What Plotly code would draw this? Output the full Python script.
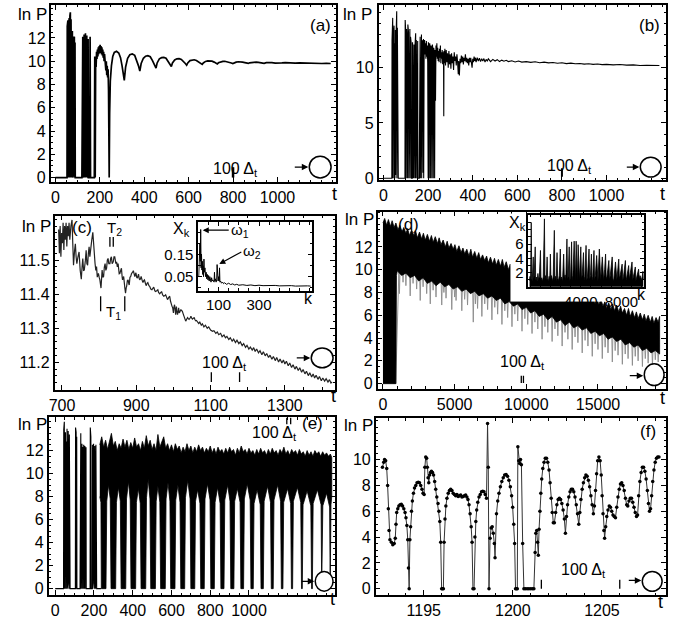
import plotly.graph_objects as go

# ---------------- data ----------------
a_pts = [(0,0),(50,0),(52,0),(53,13.0),(54,0),(56,13.5),(57,0),(59,13.2),(60,0.4),(62,13.7),(63,0),(65,13.9),(66,0.2),(67,14.2),(68,0),(70,13.6),(71,0.5),(73,13.1),(74,0),(76,12.6),(77,0),(79,12.3),(80,0.3),(82,12.0),(83,0),(85,12.1),(86,0),(88,11.6),(89,0),
(119,0),(120,11.8),(121,0),(123,12.1),(124,0.3),(126,11.9),(127,0),(129,12.3),(130,0),(132,12.0),(133,0.5),(135,12.4),(136,0),(138,11.7),(139,0),(141,12.2),(142,0.2),(144,11.5),(145,0),(147,11.9),(148,0),(154,0),(156,12.1),(158,0),
(175,0),(177,10.4),(179,0),(181,10.1),(183,9.5),(185,10.8),(187,10.2),(189,11.0),(191,10.4),(193,11.2),(195,10.6),(197,11.3),(199,10.7),(201,11.4),(203,10.8),(205,11.3),(207,10.6),(209,11.2),(211,10.5),(213,11.0),(215,10.3),(217,10.8),(219,10.0),(221,10.6),(223,9.7),(225,10.3),(227,9.2),(229,10.0),(231,8.8),(233,9.6),(235,8.6),(237,9.3),(239,7.5),(241,3.0),(242,0),
(244,5.5),(247,8.3),(252,9.6),(258,10.4),(265,10.75),(275,10.85),(285,10.7),(293,10.3),(300,9.6),(306,8.9),(310,8.35),(316,9.5),(325,10.25),(335,10.55),(346,10.62),(357,10.5),(366,10.1),(374,9.6),(380,9.15),
(386,9.8),(396,10.25),(406,10.43),(416,10.47),(427,10.38),(437,10.05),(446,9.7),(453,9.4),(458,9.85),(468,10.2),(478,10.3),(488,10.32),(498,10.25),(508,10.0),(516,9.75),(522,9.55),
(527,9.85),(537,10.1),(547,10.2),(557,10.22),(567,10.15),(577,9.98),(585,9.8),(591,9.65),(596,9.85),(606,10.05),(616,10.1),(625,10.12),(635,10.06),(645,9.95),(654,9.82),(661,9.72),
(666,9.85),(676,9.98),(686,10.03),(695,10.04),(705,10.0),(715,9.92),(723,9.83),(729,9.76),(734,9.86),(744,9.95),(754,9.98),(763,9.99),(773,9.96),(783,9.9),(792,9.84),(799,9.79),
(804,9.86),(814,9.92),(824,9.95),(833,9.95),(843,9.92),(853,9.88),(862,9.84),(869,9.81),(874,9.86),(884,9.9),(894,9.92),(904,9.92),(914,9.89),(924,9.86),(933,9.83),(940,9.81),
(950,9.87),(960,9.89),(975,9.88),(990,9.84),(1005,9.82),(1020,9.85),(1035,9.87),(1050,9.85),(1065,9.83),(1080,9.84),(1100,9.86),(1120,9.84),(1140,9.82),(1160,9.83),(1180,9.82),(1200,9.8),(1220,9.81),(1240,9.8)]

b_pts = [(0,0),(37,0),(38,12.5),(39,0),(41,14.5),(42,0),(44,13.0),(45,0.2),(47,13.8),(48,0),(50,12.2),(51,0),(53,13.4),(54,0.3),(56,12.8),(57,0),(59,15.1),(60,0),(62,13.6),(63,0),(65,13.3),(66,0),
(96,0),(97,14.3),(98,0),(100,13.0),(101,0),(103,13.5),(104,0),(106,12.4),(107,0),(109,13.9),(110,0.5),(112,13.2),(113,0),(115,12.6),(116,0),(118,13.5),(119,0),(121,12.8),(122,0),(124,12.2),(125,0),
(129,0),(130,12.3),(131,0),(133,11.9),(134,0),(136,12.1),(137,0),(140,0),(141,12.0),(142,0),(144,13.1),(145,0),(147,12.5),(148,0),(150,11.8),(151,0),(153,12.4),(154,0),
(160,0),(161,12.6),(162,0),(164,12.8),(165,0),(167,12.4),(168,0),(170,13.0),(171,0),(173,12.5),(174,0),(176,12.2),(177,0.5),(179,12.6),(180,0),
(182,11.8),(184,12.5),(186,11.2),(188,12.2),(190,10.8),(192,12.4),(194,11.0),(196,12.0),(198,10.5),
(200,0),(201,12.3),(202,0),(204,11.9),(205,0),(207,12.2),(208,0),(210,11.6),(211,0),(213,12.0),(214,0),(216,11.7),(217,0),(219,12.1),(220,0),(222,11.5),(223,0),(225,11.8),(226,0),(228,11.4),(229,0),
(231,11.6),(233,7.0),(235,12.0),(237,11.0),(239,12.2),(241,10.8),(243,11.8),(245,10.6),(247,11.5),(249,10.5),(251,11.7),(253,10.9),(255,12.0),(257,10.4),(259,11.4),(261,10.8),(263,11.6),(265,10.3),(267,11.4),(269,10.6),(270,5.6),(271,11.5),(273,10.4),(275,11.7),
(278,10.2),(281,11.6),(284,10.5),(287,11.3),(290,10.0),(293,11.5),(296,10.3),(299,11.2),(302,9.9),(305,11.3),(308,10.4),(311,11.0),(314,9.8),(317,11.4),(320,10.6),(323,11.0),(326,10.2),(329,11.2),(332,10.5),(335,9.4),(337,10.6),(340,9.3),
(343,10.8),(346,10.4),(349,11.1),(352,10.5),(355,11.0),(358,10.3),(361,10.9),(364,10.6),(367,11.2),(370,10.5),(373,10.9),(376,10.4),(379,10.8),(382,10.2),(385,10.9),(388,10.5),(391,10.9),(394,10.4),(397,10.0),(400,10.8),(403,10.5),(406,11.0),(409,10.6),(412,10.9),(415,10.5),
(420,10.9),(425,10.6),(430,10.85),(435,10.55),(440,10.8),(445,10.6),(450,10.82),(455,10.5),(460,10.75),(465,10.6),(470,10.8),(480,10.55),(490,10.75),(500,10.6),(510,10.72),(520,10.55),(530,10.68),(540,10.58),(550,10.66),(560,10.55),
(575,10.62),(590,10.52),(605,10.6),(620,10.5),(640,10.55),(660,10.48),(680,10.53),(700,10.45),(720,10.5),(740,10.43),(760,10.47),(780,10.4),(800,10.44),(820,10.37),(840,10.41),(860,10.35),(880,10.38),(900,10.32),(920,10.35),(940,10.3),(960,10.33),(980,10.28),(1000,10.3),
(1030,10.25),(1060,10.28),(1090,10.23),(1120,10.25),(1150,10.2),(1180,10.22),(1210,10.18),(1237,10.2)]

c_pts = [(691,11.59),(693,11.52),(695,11.60),(697,11.51),(699,11.58),(701,11.55),(703,11.61),(705,11.53),(707,11.60),(709,11.56),(711,11.61),(713,11.54),(715,11.60),(717,11.57),(719,11.61),(721,11.56),(724,11.60),(727,11.618),
(729,11.55),(731,11.485),(734,11.53),(736,11.548),(738,11.51),(740,11.49),(743,11.51),(746,11.524),(749,11.47),(752,11.444),(754,11.48),(756,11.505),(758,11.47),(760,11.471),(763,11.50),(765,11.529),(767,11.49),(769,11.485),(771,11.52),(773,11.539),(775,11.51),(778,11.55),(780,11.558),(783,11.582),
(785,11.539),(787,11.50),(789,11.49),(791,11.47),(793,11.481),(795,11.45),(798,11.461),(800,11.45),(802,11.442),(805,11.418),(808,11.471),(810,11.45),(812,11.452),(814,11.48),(816,11.49),(818,11.47),(820,11.476),(822,11.50),(824,11.505),(826,11.49),(829,11.49),(831,11.505),(833,11.51),(835,11.49),(838,11.495),(840,11.51),(842,11.51),(845,11.49),(847,11.495),(849,11.48),(851,11.49),
(854,11.46),(856,11.461),(858,11.47),(860,11.476),(862,11.45),(863,11.442),(865,11.45),(866,11.452),(869,11.42),(871,11.403),(873,11.42),(874,11.423),(876,11.44),(878,11.442),(880,11.43),(881,11.427),(883,11.45),(885,11.452),(887,11.46),(888,11.461),(890,11.465),(892,11.469),
(894,11.455),(896,11.452),(898,11.46),(899,11.463),(901,11.45),(903,11.447),(905,11.455),(906,11.459),(908,11.445),(910,11.442),(912,11.448),(913,11.452),(916,11.44),(918,11.434),(920,11.44),(922,11.442),(925,11.43),(927,11.425),(929,11.432),(931,11.434),(934,11.425),(936,11.423),
(939,11.415),(942,11.413),(945,11.418),(947,11.421),(950,11.41),(952,11.408),(955,11.41),(958,11.413),(960,11.405),(963,11.401),(966,11.405),(968,11.408),(971,11.398),(974,11.394),(977,11.396),(979,11.398),(982,11.39),(984,11.384),(987,11.39),(990,11.394),(992,11.38),(993,11.374),
(996,11.365),(998,11.36),(1000,11.345),(1001,11.36),(1003,11.369),(1005,11.35),(1006,11.340),(1007,11.355),(1008,11.364),(1010,11.345),(1011,11.340),(1013,11.35),(1014,11.360),(1015,11.35),(1016,11.345),(1018,11.35),(1020,11.355),(1022,11.352),(1024,11.350),(1026,11.343),(1029,11.335),
(1031,11.33),(1033,11.321),(1036,11.327),(1038,11.331),(1040,11.328),(1042,11.326),(1045,11.33),(1047,11.335),(1049,11.33),(1051,11.327),(1054,11.33),(1056,11.331),(1058,11.325),(1060,11.322),(1062,11.323),(1064,11.319),
(1068,11.314),(1071,11.318),(1075,11.309),(1078,11.313),(1082,11.304),(1086,11.309),(1091,11.300),(1095,11.304),(1100,11.295),(1105,11.291),(1109,11.293),(1114,11.285),(1118,11.289),(1122,11.281),(1127,11.285),(1131,11.275),(1136,11.280),(1140,11.272),(1144,11.276),(1149,11.267),(1153,11.272),
(1158,11.262),(1162,11.268),(1167,11.258),(1171,11.265),(1176,11.255),(1180,11.260),(1185,11.249),(1189,11.255),(1194,11.244),(1198,11.250),(1203,11.239),(1207,11.245),(1212,11.236),(1216,11.243),(1220,11.232),(1224,11.239),(1229,11.228),(1233,11.234),(1238,11.222),(1242,11.231),
(1247,11.219),(1251,11.226),(1256,11.214),(1260,11.221),(1265,11.209),(1269,11.217),(1274,11.205),(1278,11.214),(1283,11.201),(1287,11.210),(1292,11.198),(1296,11.207),(1300,11.195),(1304,11.203),(1309,11.190),(1313,11.198),(1318,11.185),(1322,11.193),(1327,11.180),(1331,11.188),
(1336,11.176),(1340,11.184),(1345,11.171),(1349,11.179),(1354,11.166),(1358,11.174),(1363,11.161),(1367,11.169),(1372,11.157),(1376,11.166),(1380,11.154),(1384,11.162),(1389,11.150),(1393,11.158),(1398,11.146),(1402,11.154),(1407,11.145),(1411,11.152),(1416,11.142),(1420,11.149),(1424,11.139),(1427,11.142)]

ci_pts = [(2,0.05),(5,0.10),(8,0.20),(10,0.12),(12,0.265),(14,0.09),(16,0.15),(18,0.08),(20,0.12),(22,0.06),(24,0.10),(26,0.05),(28,0.13),(30,0.07),(33,0.09),(36,0.05),(39,0.07),(42,0.04),(45,0.06),(48,0.035),(51,0.055),(54,0.03),(57,0.05),(60,0.04),(63,0.025),(66,0.045),(69,0.03),(72,0.035),(75,0.03),(78,0.025),(80,0.07),(82,0.03),(85,0.04),(88,0.025),(91,0.035),(93,0.105),(95,0.04),(98,0.03),(101,0.05),(103,0.03),(105,0.09),(107,0.025),(110,0.03),(115,0.02),(120,0.025),(125,0.018),(130,0.022),(140,0.015),(150,0.02),(160,0.014),(170,0.017),(180,0.012),(190,0.015),(200,0.011),(220,0.013),(240,0.01),(260,0.012),(280,0.009),(300,0.011),(320,0.009),(340,0.01),(360,0.008),(380,0.01),(400,0.008),(420,0.009),(440,0.008),(460,0.009),(480,0.007),(500,0.008),(520,0.007),(540,0.008),(555,0.007)]

d_upper = [(0,14.1),(120,14.5),(260,13.9),(380,14.4),(520,13.8),(640,14.3),(780,13.7),(900,14.1),(1050,13.5),(1180,13.9),(1320,13.3),(1450,13.7),(1600,13.2),(1720,13.6),(1850,13.0),(2000,13.5),(2150,13.0),(2280,13.4),(2400,12.8),(2550,13.3),(2700,12.7),(2820,13.2),(2950,12.6),(3100,13.1),(3250,12.5),(3380,13.0),(3500,12.4),(3650,12.9),(3800,12.3),(3920,12.8),(4050,12.2),(4200,12.6),(4350,12.0),(4480,12.5),(4600,11.9),(4750,12.3),(4900,11.8),(5020,12.2),(5150,11.6),(5300,12.1),(5450,11.5),(5580,11.9),(5700,11.4),(5850,11.8),(6000,11.2),(6130,11.8),(6250,11.1),(6400,11.6),(6550,11.0),(6680,11.5),(6800,10.9),(6950,11.3),(7100,10.8),(7230,11.2),(7350,10.6),(7500,11.1),(7650,10.5),(7780,11.0),(7900,10.4),(8050,10.9),(8200,10.3),(8330,10.9),(8450,10.2),(8600,10.7),(8750,10.0),(8880,10.5),(9000,9.9),(9150,10.4),(9300,9.8),(9430,10.2),(9550,9.6),(9700,10.1),(9850,9.4),(9980,9.9),(10100,9.3),(10250,9.8),(10400,9.2),(10530,9.7),(10650,9.0),(10800,9.5),(10950,8.9),(11080,9.4),(11200,8.8),(11350,9.2),(11500,8.6),(11630,9.1),(11750,8.5),(11900,9.0),(12050,8.4),(12180,8.8),(12300,8.2),(12450,8.7),(12600,8.1),(12730,8.6),(12850,8.0),(13000,8.5),(13150,7.9),(13280,8.3),(13400,7.7),(13550,8.2),(13700,7.6),(13830,8.0),(13950,7.4),(14100,7.9),(14250,7.3),(14380,7.8),(14500,7.2),(14650,7.6),(14800,7.0),(14930,7.6),(15050,6.9),(15200,7.4),(15350,6.8),(15480,7.2),(15600,6.6),(15750,7.1),(15900,6.5),(16030,7.0),(16150,6.4),(16300,6.9),(16450,6.3),(16580,6.8),(16700,6.2),(16850,6.6),(17000,6.0),(17130,6.6),(17250,5.9),(17400,6.4),(17550,5.8),(17680,6.3),(17800,5.7),(17950,6.2),(18100,5.6),(18230,6.1),(18350,5.5),(18500,6.0),(18650,5.4),(18780,5.9),(18900,5.3),(19050,5.8),(19200,5.4),(19300,5.9)]

d_lower = [(0,0),(900,0),(940,9.5),(1000,9.9),(1300,9.5),(1600,9.7),(1900,9.3),(2200,9.5),(2500,9.0),(2800,9.3),(3100,8.8),(3400,9.0),(3700,8.6),(4000,8.9),(4300,8.5),(4600,8.7),(4900,8.3),(5200,8.5),(5500,8.1),(5800,8.3),(6100,7.9),(6400,8.1),(6700,7.7),(7000,7.9),(7300,7.5),(7600,7.7),(7900,7.3),(8200,7.5),(8500,7.0),(8800,7.2),(9100,6.8),(9400,7.0),(9700,6.5),(10000,6.7),(10300,6.2),(10600,6.4),(10900,5.9),(11200,6.1),(11500,5.6),(11800,5.9),(12100,5.4),(12400,5.6),(12700,5.1),(13000,5.4),(13300,4.9),(13600,5.1),(13900,4.7),(14200,4.9),(14500,4.4),(14800,4.6),(15100,4.2),(15400,4.4),(15700,3.9),(16000,4.1),(16300,3.7),(16600,3.9),(16900,3.4),(17200,3.6),(17500,3.2),(17800,3.4),(18100,2.9),(18400,3.1),(18700,2.7),(19000,2.9),(19300,2.6)]

# grey downward spikes under the black band: (t, band level, spike depth)
d_spikes = [(760,0,10.0),(850,0,9.8),(1150,9.9,7.9),(1400,9.8,8.9),(1600,9.8,8.6),(1900,9.6,7.7),(2100,9.6,8.8),(2350,9.5,8.3),(2600,9.4,7.3),(2800,9.3,8.5),(3050,9.2,7.9),(3300,9.1,7.0),(3500,9.1,8.2),(3700,9.0,7.6),(4100,8.9,6.9),(4250,8.9,8.0),(4400,8.8,7.5),(4800,8.7,6.5),(5000,8.6,7.6),(5100,8.6,7.3),(5500,8.4,6.4),(5700,8.3,7.4),(5900,8.3,6.9),(6300,8.1,5.4),(6450,8.1,7.0),(6600,8.1,6.6),(6900,8.0,5.9),(7100,7.9,7.0),(7300,7.9,6.5),(7600,7.7,5.6),(7800,7.7,6.7),(8000,7.6,6.1),(8300,7.5,5.2),(8500,7.4,6.4),(8700,7.3,5.8),(9000,7.2,5.0),(9200,7.1,6.1),(9400,7.0,5.5),(9700,6.9,4.6),(9900,6.8,5.7),(10100,6.7,5.2),(10400,6.6,4.4),(10600,6.5,5.4),(10800,6.4,4.8),(11100,6.3,3.9),(11300,6.2,5.0),(11500,6.1,4.5),(11800,6.0,3.7),(12000,5.9,4.8),(12200,5.8,4.2),(12500,5.7,3.3),(12700,5.6,4.5),(12900,5.5,3.9),(13200,5.4,3.0),(13400,5.3,4.1),(13600,5.3,3.6),(13900,5.1,2.7),(14100,5.1,3.8),(14300,5.0,3.3),(14600,4.8,2.4),(14800,4.7,3.5),(15000,4.6,3.0),(15300,4.5,2.2),(15500,4.4,3.2),(15700,4.3,2.7),(16000,4.2,1.9),(16200,4.1,2.9),(16400,4.0,2.5),(16700,3.9,1.7),(16900,3.8,2.6),(17100,3.8,2.2),(17400,3.6,1.6),(17600,3.5,2.4),(17800,3.4,2.0),(18100,3.3,1.5),(18300,3.2,2.2),(18500,3.2,1.8),(18800,3.1,1.6),(19000,3.0,2.1),(19200,2.9,1.9)]

di_pts = [(-1050,0.9),(-1000,1.5),(-950,0.8),(-880,9.0),(-830,1.2),(-780,0.8),(-685,4.2),(-640,1.1),(-590,1.6),(-490,5.6),(-440,0.9),(-380,1.4),(-300,0.8),(-226,1.9),(-150,1.0),(-80,1.5),(28,5.1),(80,0.9),(150,1.3),(230,0.8),(300,1.4),(418,9.5),(470,1.0),(540,1.6),(600,0.9),(682,4.2),(740,1.2),(800,0.8),(880,1.5),(940,0.9),(1004,4.6),(1060,1.1),(1120,1.6),(1200,0.8),(1280,1.4),(1394,7.9),(1450,1.0),(1520,1.5),(1580,0.8),(1658,4.8),(1720,1.2),(1800,0.9),(1880,1.6),(1980,5.3),(2040,1.0),(2100,1.4),(2200,0.8),(2312,4.6),(2380,1.2),(2450,1.7),(2520,0.9),(2634,6.7),(2700,1.1),(2760,1.5),(2858,5.6),(2920,0.9),(2990,1.4),(3092,6.3),(3150,1.0),(3220,1.6),(3346,6.4),(3400,1.2),(3470,0.8),(3541,6.4),(3600,1.3),(3660,0.9),(3736,5.9),(3800,1.5),(3870,1.0),(4000,5.6),(4070,1.2),(4140,1.7),(4264,4.8),(4330,1.0),(4400,1.5),(4517,5.8),(4580,0.9),(4650,1.4),(4810,5.3),(4880,1.1),(4950,1.6),(5044,4.6),(5110,0.9),(5180,1.5),(5298,5.1),(5360,1.0),(5430,1.6),(5562,4.4),(5620,1.2),(5690,0.8),(5825,5.3),(5890,1.3),(5960,1.0),(6118,4.2),(6180,1.4),(6250,0.9),(6350,2.5),(6440,4.6),(6500,1.1),(6580,1.5),(6762,3.7),(6830,1.0),(6900,1.6),(7094,4.2),(7160,1.2),(7230,0.8),(7416,3.5),(7480,1.4),(7550,1.0),(7738,3.9),(7800,1.2),(7870,1.6),(8070,3.2),(8140,1.0),(8210,1.5),(8392,3.7),(8460,0.9),(8530,1.4),(8714,3.0),(8780,1.1),(8850,1.6),(9045,3.5),(9110,1.0),(9180,1.4),(9368,2.8),(9430,0.9),(9500,1.5),(9690,2.5),(9760,1.1),(9830,1.6),(10000,1.0),(10119,2.2),(10150,1.0)]

e_early = [(0,0),(43,0),(44,13.8),(45,0),(47,14.5),(48,0),(50,13.2),(51,0),(53,13.6),(54,0),(56,12.8),(57,0),(60,0),(61,13.9),(62,0),(64,13.5),(65,0.4),(67,13.7),(68,0),(70,13.2),(71,0),(73,13.4),(74,0),(76,12.9),(77,0),(104,0),(105,14.0),(106,0),(108,13.6),(109,0),(111,13.2),(112,0),(128,0),(129,12.4),(130,0),(132,13.5),(133,0),(135,12.2),(136,0.2),(138,12.6),(139,0),(141,12.3),(142,0),(144,12.0),(145,0),(147,12.5),(148,0),(150,12.2),(151,0),(153,12.4),(154,0),(156,11.9),(157,0),(159,12.3),(160,0),(180,0),(181,14.0),(182,0),(184,13.2),(185,0),(191,0),(192,12.5),(193,0),(195,12.3),(196,0.5),(198,12.6),(199,0),(201,12.2),(202,0),(204,12.4),(205,0),(207,11.8),(208,0),(210,12.5),(211,0),(213,12.0),(214,0),(236,0)]

e_upper = [(230,12.5),(240,13.2),(250,12.3),(260,12.9),(270,12.1),(280,12.7),(290,13.5),(300,12.4),(310,12.8),(320,12.0),(330,12.6),(340,12.2),(350,13.0),(360,12.3),(370,12.9),(380,12.1),(390,12.7),(400,12.2),(410,13.1),(420,12.3),(430,12.6),(440,12.0),(450,12.8),(460,12.2),(470,13.3),(480,12.4),(490,12.9),(500,12.1),(510,12.6),(520,12.0),(530,13.4),(540,12.3),(550,12.7),(560,13.2),(570,12.2),(580,12.6),(590,12.0),(600,12.5),(610,11.9),(620,12.6),(630,12.1),(640,12.4),(650,11.8),(660,12.3),(670,11.9),(680,12.6),(690,12.0),(700,12.4),(710,11.8),(720,12.3),(730,11.9),(740,12.5),(750,12.0),(760,12.3),(770,11.8),(780,12.2),(790,11.9),(800,12.4),(810,11.8),(820,12.2),(830,11.7),(840,12.3),(850,11.9),(860,12.1),(870,11.7),(880,12.2),(890,11.8),(900,12.3),(910,11.9),(920,12.1),(930,11.6),(940,12.2),(950,11.8),(960,12.4),(970,11.9),(980,12.1),(990,11.7),(1000,12.2),(1010,11.8),(1020,12.0),(1030,11.6),(1040,12.1),(1050,11.7),(1060,12.2),(1070,11.8),(1080,12.0),(1090,11.6),(1100,12.1),(1110,11.7),(1120,12.2),(1130,11.8),(1140,12.0),(1150,11.6),(1160,12.1),(1170,11.8),(1180,12.3),(1190,11.7),(1200,12.0),(1210,11.6),(1220,12.1),(1230,11.8),(1240,12.0),(1250,11.6),(1260,12.1),(1270,11.7),(1280,11.9),(1290,11.5),(1300,12.0),(1310,11.6),(1320,11.9),(1330,11.5),(1340,12.0),(1350,11.7),(1360,11.9),(1370,11.5),(1380,11.9),(1390,11.6),(1400,11.8),(1410,11.5),(1420,11.7),(1427,11.4)]

e_lower = [(230,8.0),(236,7.5),(238,0),(262,0),(266,7.6),(275,9.0),(284,7.8),(288,0),(312,0),(316,7.5),(326,8.8),(336,7.6),(340,0),(364,0),(368,7.8),(378,9.3),(387,7.7),(391,0),(415,0),(419,7.5),(429,8.7),(439,7.4),(443,0),(467,0),(471,7.9),(480,9.5),(489,7.8),(493,0),(517,0),(521,7.6),(530,8.9),(540,7.5),(544,0),(568,0),(572,7.8),(582,9.2),(592,7.6),(596,0),(618,0),(622,7.7),(633,9.0),(644,7.5),(648,0),(668,0),(672,7.9),(684,9.4),(696,7.8),(700,0),(720,0),(724,7.6),(735,8.6),(747,7.4),(751,0),(769,0),(773,7.8),(786,9.1),(799,7.7),(803,0),(821,0),(825,7.5),(838,8.8),(851,7.4),(855,0),(871,0),(875,7.7),(890,9.0),(902,7.6),(906,0),(922,0),(926,7.6),(940,8.7),(954,7.5),(958,0),(972,0),(976,7.8),(991,9.1),(1006,7.7),(1010,0),(1022,0),(1026,7.4),(1042,8.6),(1058,7.3),(1062,0),(1074,0),(1078,7.6),(1096,8.9),(1111,7.5),(1115,0),(1125,0),(1129,7.7),(1148,9.0),(1163,7.6),(1167,0),(1175,0),(1179,7.5),(1199,8.7),(1215,7.4),(1219,0),(1225,0),(1229,7.6),(1250,8.8),(1267,7.5),(1271,0),(1275,0),(1279,7.3),(1300,8.5),(1319,7.2),(1323,0),(1327,0),(1331,7.4),(1353,8.6),(1372,7.3),(1375,0),(1377,0),(1381,7.2),(1400,8.3),(1416,7.1),(1419,0),(1421,0),(1423,7.3),(1427,8.0)]

f_pts = [(1192.68,9.4),(1192.75,9.8),(1192.80,10.0),(1192.86,9.9),(1192.92,9.3),(1192.97,8.0),(1193.01,6.2),(1193.05,4.5),(1193.10,3.8),(1193.18,3.6),(1193.26,3.4),(1193.34,3.5),(1193.40,3.9),(1193.44,5.0),(1193.48,5.9),(1193.54,6.2),(1193.60,6.4),(1193.67,6.5),(1193.74,6.55),(1193.81,6.4),(1193.88,6.2),(1193.95,5.9),(1194.00,5.5),(1194.05,4.9),(1194.10,3.8),(1194.14,1.6),(1194.18,0.0),
(1194.22,3.8),(1194.26,4.8),(1194.31,6.0),(1194.36,6.8),(1194.42,7.4),(1194.48,7.8),(1194.55,8.0),(1194.62,8.2),(1194.69,8.25),(1194.76,8.2),(1194.83,8.0),(1194.90,7.7),(1194.96,7.4),(1195.02,7.3),(1195.06,9.4),(1195.11,10.2),(1195.16,10.1),(1195.20,9.4),(1195.24,8.6),(1195.28,8.2),(1195.33,8.8),(1195.38,9.0),(1195.43,9.1),(1195.49,9.0),(1195.55,8.8),(1195.61,8.3),(1195.67,7.7),(1195.73,7.1),(1195.80,6.6),(1195.85,6.0),(1195.90,5.2),(1195.95,3.6),(1196.00,0.0),(1196.05,0.0),(1196.10,0.0),
(1196.14,3.6),(1196.19,5.4),(1196.24,6.4),(1196.30,7.0),(1196.37,7.4),(1196.44,7.6),(1196.51,7.7),(1196.58,7.6),(1196.65,7.4),(1196.72,7.3),(1196.79,7.2),(1196.86,7.3),(1196.93,7.15),(1197.00,7.2),(1197.07,7.25),(1197.14,7.1),(1197.21,7.15),(1197.28,7.2),(1197.35,7.25),(1197.42,7.1),(1197.48,6.9),(1197.54,6.5),(1197.60,5.8),(1197.66,4.8),(1197.71,3.6),(1197.76,0.0),(1197.82,0.0),
(1197.87,4.0),(1197.92,5.2),(1197.97,6.1),(1198.03,6.7),(1198.10,7.1),(1198.17,7.3),(1198.24,7.5),(1198.31,7.55),(1198.38,7.5),(1198.45,7.3),(1198.52,7.0),(1198.58,12.8),(1198.62,9.4),(1198.66,0.0),(1198.72,3.9),(1198.78,4.7),(1198.84,4.8),(1198.90,4.3),(1198.96,3.5),(1199.00,2.4),
(1199.08,5.8),(1199.15,6.8),(1199.22,7.4),(1199.30,7.9),(1199.38,8.3),(1199.46,8.6),(1199.54,8.8),(1199.62,8.85),(1199.70,8.7),(1199.78,8.4),(1199.86,7.9),(1199.93,7.2),(1199.99,6.3),(1200.05,5.0),(1200.10,3.5),(1200.15,0.0),(1200.20,0.0),(1200.25,0.0),(1200.28,11.0),(1200.33,9.9),(1200.38,9.7),(1200.43,10.0),(1200.48,9.6),(1200.55,3.5),
(1200.62,0.0),(1200.70,0.0),(1200.80,0.0),(1200.90,0.0),(1201.00,0.0),(1201.10,0.0),(1201.18,0.0),(1201.25,2.8),(1201.29,4.3),(1201.34,4.5),(1201.39,3.6),(1201.43,2.6),(1201.47,4.6),(1201.52,6.0),(1201.57,7.4),(1201.62,8.5),(1201.68,9.3),(1201.75,9.8),(1201.82,10.1),(1201.89,10.1),(1201.96,9.8),(1202.03,9.2),(1202.09,8.2),(1202.15,7.0),(1202.21,5.9),(1202.27,5.1),
(1202.33,5.1),(1202.40,5.9),(1202.47,6.5),(1202.54,6.9),(1202.61,7.0),(1202.68,6.9),(1202.75,6.6),(1202.82,6.1),(1202.89,5.4),(1202.95,4.3),(1203.01,5.6),(1203.07,6.5),(1203.14,7.1),(1203.21,7.5),(1203.28,7.7),(1203.35,7.7),(1203.42,7.5),(1203.49,7.1),(1203.56,6.5),(1203.63,5.8),(1203.70,5.0),
(1203.76,5.9),(1203.82,6.9),(1203.89,7.7),(1203.96,8.2),(1204.03,8.6),(1204.10,8.8),(1204.17,8.7),(1204.24,8.4),(1204.31,7.9),(1204.38,7.2),(1204.45,6.5),(1204.52,5.8),(1204.58,6.4),(1204.64,7.6),(1204.70,8.9),(1204.76,9.9),(1204.83,10.2),(1204.90,9.9),(1204.96,8.8),(1205.01,7.2),(1205.06,5.8),(1205.11,4.5),(1205.15,3.9),
(1205.21,4.8),(1205.27,5.6),(1205.34,6.1),(1205.41,6.4),(1205.48,6.3),(1205.55,6.0),(1205.62,5.7),(1205.69,5.6),(1205.76,5.5),(1205.83,6.3),(1205.90,7.1),(1205.97,7.7),(1206.04,8.1),(1206.11,8.2),(1206.18,8.0),(1206.25,7.6),(1206.32,7.0),(1206.39,6.5),(1206.45,6.4),(1206.52,6.8),(1206.59,7.0),(1206.66,7.0),(1206.73,6.7),(1206.80,6.3),(1206.87,5.9),(1206.94,5.6),
(1207.00,5.7),(1207.06,7.2),(1207.13,8.3),(1207.20,9.0),(1207.27,9.4),(1207.34,9.4),(1207.41,9.1),(1207.48,8.5),(1207.55,7.6),(1207.61,6.6),(1207.67,6.0),(1207.73,6.2),(1207.79,7.2),(1207.85,8.3),(1207.92,9.2),(1207.99,9.8),(1208.06,10.1),(1208.13,10.2),(1208.20,10.2)]

# tick labels
a_xticks = [0, 200, 400, 600, 800, 1000]
a_yticks = [0, 2, 4, 6, 8, 10, 12]
b_yticks = [0, 5, 10]
c_xticks = [700, 900, 1100, 1300]
c_yticks = [11.2, 11.3, 11.4, 11.5]
ci_xticks = [100, 300]
ci_yticks = [0.05, 0.15]
d_xticks = [0, 5000, 10000, 15000]
di_xticks = [4000, 8000]
di_yticks = [2, 4, 6]
f_xticks = [1195, 1200, 1205]
f_yticks = [0, 2, 4, 6, 8, 10]

# "100 Δt" marker positions (t)
a_marks = [798, 802]
b_marks = [800]
c_marks = [1102, 1178]
c_T1_marks = [804, 869]
c_T2_marks = [829, 838]
d_marks = [9650, 9800]
e_marks = [1195, 1215]
f_marks = [1201.6, 1206.0]

# ---------------- layout ----------------
W, H = 674, 621
FONT = "Liberation Sans Narrow, Arial Narrow, Liberation Sans, Arial, sans-serif"
SPIKE_HALF = 40   # drawn half-width of a grey spike in (d), in t units


def unzip(p):
    return [q[0] for q in p], [q[1] for q in p]


def band(up, lo):
    ux, uy = unzip(up)
    lx, ly = unzip(lo)
    return ux + lx[::-1], uy + ly[::-1]


# frames: left, top, right, bottom (pixels); 8 is the white backing of inset (d) with its labels
frames = {
    1: (45, 5, 333, 184),
    2: (376, 5, 666, 182),
    3: (49, 218, 332, 394),
    4: (375, 214, 666, 393),
    5: (43, 422, 332, 602),
    6: (373, 423, 666, 602),
    7: (194, 225, 309, 294),
    8: (509, 216, 650, 305),
    9: (527, 217, 644, 290),
}
BACKINGS = (8,)
ranges = {
    1: ([-22, 1264], [-0.37, 14.83]),
    2: ([-22, 1267], [-0.15, 15.67]),
    3: ([680, 1435], [11.12, 11.631]),
    4: ([-370, 19750], [-0.43, 15.1]),
    5: ([-34, 1444], [-0.57, 14.9]),
    6: ([1192.3, 1208.6], [-0.5, 13.2]),
    7: ([0, 563], [-0.014, 0.297]),
    8: ([0, 1], [0, 1]),
    9: ([-1170, 10250], [0.05, 10.1]),
}
ticks = {
    1: (a_xticks, 50, a_yticks, 0.5),
    2: (a_xticks, 50, b_yticks, 1),
    3: (c_xticks, 50, c_yticks, 0.02),
    4: (d_xticks, 1000, a_yticks, 0.5),
    5: (a_xticks, 50, a_yticks, 0.5),
    6: (f_xticks, 1, f_yticks, 0.5),
    7: (ci_xticks, 50, ci_yticks, 0.05),
    9: (di_xticks, 1000, di_yticks, 1),
}

fig = go.Figure()

def ax_names(i):
    return ("x" if i == 1 else f"x{i}"), ("y" if i == 1 else f"y{i}")

# panel (a)
x, y = unzip(a_pts)
fig.add_trace(go.Scatter(x=x, y=y, mode="lines", line=dict(color="black", width=1.7), xaxis="x", yaxis="y"))
# panel (b)
x, y = unzip(b_pts)
fig.add_trace(go.Scatter(x=x, y=y, mode="lines", line=dict(color="black", width=1.1), xaxis="x2", yaxis="y2"))
# panel (c)
x, y = unzip(c_pts)
fig.add_trace(go.Scatter(x=x, y=y, mode="lines", line=dict(color="#222222", width=1.2), xaxis="x3", yaxis="y3"))
# panel (d): grey spikes, then black band
gx, gy = [], []
for t, lev, depth in d_spikes:
    gx += [t - SPIKE_HALF, t, t + SPIKE_HALF]
    gy += [lev, depth, lev]
fig.add_trace(go.Scatter(x=gx, y=gy, mode="lines", line=dict(color="#8a8a8a", width=0.9), xaxis="x4", yaxis="y4"))
x, y = band(d_upper, d_lower)
fig.add_trace(go.Scatter(x=x, y=y, mode="lines", fill="toself", fillcolor="black",
                         line=dict(color="black", width=0.8), xaxis="x4", yaxis="y4"))
# panel (e)
x, y = unzip(e_early)
fig.add_trace(go.Scatter(x=x, y=y, mode="lines", line=dict(color="black", width=1.1), xaxis="x5", yaxis="y5"))
x, y = band(e_upper, e_lower)
fig.add_trace(go.Scatter(x=x, y=y, mode="lines", fill="toself", fillcolor="black",
                         line=dict(color="black", width=0.8), xaxis="x5", yaxis="y5"))
# panel (f)
x, y = unzip(f_pts)
fig.add_trace(go.Scatter(x=x, y=y, mode="lines+markers", line=dict(color="#333333", width=1),
                         marker=dict(color="black", size=3.5), xaxis="x6", yaxis="y6"))
# inset (c)
x, y = unzip(ci_pts)
fig.add_trace(go.Scatter(x=x, y=y, mode="lines", line=dict(color="black", width=1), xaxis="x7", yaxis="y7"))
# white backing behind inset (d) and its tick labels
for i in BACKINGS:
    xa, ya = ax_names(i)
    fig.add_trace(go.Scatter(x=[None], y=[None], mode="lines", xaxis=xa, yaxis=ya, hoverinfo="skip"))
# inset (d)
x, y = unzip(di_pts)
fig.add_trace(go.Scatter(x=x, y=y, mode="lines", fill="tozeroy", fillcolor="black",
                         line=dict(color="black", width=0.8), xaxis="x9", yaxis="y9"))

layout = dict(width=W, height=H, margin=dict(l=0, r=0, t=0, b=0), showlegend=False,
              paper_bgcolor="white", plot_bgcolor="white",
              font=dict(family=FONT, size=16, color="black"))

for i, (l, t, r, b) in frames.items():
    xa, ya = ax_names(i)
    xk = "xaxis" if i == 1 else f"xaxis{i}"
    yk = "yaxis" if i == 1 else f"yaxis{i}"
    if i in BACKINGS:
        hidden = dict(visible=False, showgrid=False, zeroline=False, fixedrange=True)
        layout[xk] = dict(domain=[l / W, r / W], range=ranges[i][0], anchor=ya, **hidden)
        layout[yk] = dict(domain=[1 - b / H, 1 - t / H], range=ranges[i][1], anchor=xa, **hidden)
        continue
    xt, xm, yt, ym = ticks[i]
    fs = 15 if i >= 7 else 16
    common = dict(ticks="inside", ticklen=5 if i < 7 else 4, tickwidth=1, tickcolor="black",
                  showline=True, linecolor="black", linewidth=1.6, mirror="allticks",
                  showgrid=False, zeroline=False, fixedrange=True,
                  tickfont=dict(family=FONT, size=fs, color="black"))
    layout[xk] = dict(domain=[l / W, r / W], range=ranges[i][0], anchor=ya,
                      tickmode="array", tickvals=xt, ticktext=[f"{v:g}" for v in xt],
                      minor=dict(ticks="inside", ticklen=2.5, tickwidth=1, tickcolor="black",
                                 tickmode="linear", tick0=0, dtick=xm), **common)
    layout[yk] = dict(domain=[1 - b / H, 1 - t / H], range=ranges[i][1], anchor=xa,
                      tickmode="array", tickvals=yt, ticktext=[f"{v:g}" for v in yt],
                      minor=dict(ticks="inside", ticklen=2.5, tickwidth=1, tickcolor="black",
                                 tickmode="linear", tick0=0, dtick=ym), **common)

ann = []
def text(px, py, s, size=17, xanchor="center"):
    ann.append(dict(x=px / W, y=1 - py / H, xref="paper", yref="paper", text=s, showarrow=False,
                    xanchor=xanchor, yanchor="middle", font=dict(family=FONT, size=size, color="black")))

for px, py in [(27, 15), (355, 15), (31, 229), (357, 222), (27, 429), (356, 430)]:
    text(px, py, "ln P", 17)
for px, py in [(331, 196), (662, 196), (330, 401), (662, 403), (329, 606), (660, 609)]:
    text(px, py, "t", 18)
for px, py, s in [(317, 26, "(a)"), (649, 26, "(b)"), (77, 230, "(c)"), (406, 227, "(d)"), (309, 428, "(e)"), (648, 436, "(f)")]:
    text(px, py, s, 17)
for px, py in [(232, 171), (569, 168), (220, 368), (521, 367), (271, 438), (583, 577)]:
    text(px, py, "100 Δ<sub>t</sub>", 16)
text(109, 231, "T<sub>2</sub>", 15)
text(108, 316, "T<sub>1</sub>", 15)
text(177, 232, "X<sub>k</sub>", 16)
text(516, 226, "X<sub>k</sub>", 16)
text(305, 302, "k", 16)
text(641, 298, "k", 16)

# omega arrows in inset (c)
ann.append(dict(x=22, y=0.262, xref="x7", yref="y7", text="ω<sub>1</sub>", showarrow=True,
                ax=26, ay=0, arrowhead=2, arrowsize=1, arrowwidth=1.2, arrowcolor="black",
                xanchor="left", font=dict(family=FONT, size=15, color="black")))
ann.append(dict(x=104, y=0.108, xref="x7", yref="y7", text="ω<sub>2</sub>", showarrow=True,
                ax=22, ay=-12, arrowhead=2, arrowsize=1, arrowwidth=1.2, arrowcolor="black",
                xanchor="left", font=dict(family=FONT, size=15, color="black")))

# arrows to circles
for tipx, tailx, py in [(305, 290, 169), (639, 625, 169), (307, 292, 362), (643, 628, 380), (311, 297, 588), (641, 627, 587)]:
    ann.append(dict(x=tipx / W, y=1 - py / H, xref="paper", yref="paper", text="", showarrow=True,
                    ax=tailx - tipx, ay=0, arrowhead=2, arrowsize=1, arrowwidth=1.3, arrowcolor="black"))

shapes = []
for l, t, r, b in [(306, 158, 328, 180), (640, 159, 661, 179), (308, 352, 330, 372),
                   (644, 368, 664, 390), (312, 578, 330, 598), (642, 578, 662, 598)]:
    shapes.append(dict(type="circle", xref="paper", yref="paper", x0=l / W, x1=r / W,
                       y0=1 - b / H, y1=1 - t / H, line=dict(color="black", width=1.5),
                       fillcolor="white", layer="above"))

def marks(vals, xr, yr, y0, y1, w=1.3):
    for v in vals:
        shapes.append(dict(type="line", xref=xr, yref=yr, x0=v, x1=v, y0=y0, y1=y1,
                           line=dict(color="black", width=w), layer="above"))

marks(a_marks, "x", "y", 0.0, 0.9, 1.6)
marks(b_marks, "x2", "y2", 0.15, 0.9, 2)
marks(c_marks, "x3", "y3", 11.142, 11.171)
marks(c_T1_marks, "x3", "y3", 11.35, 11.394)
marks(c_T2_marks, "x3", "y3", 11.539, 11.568)
marks(d_marks, "x4", "y4", 0.05, 0.7)
marks(e_marks, "x5", "y5", 14.3, 14.85)
marks(f_marks, "x6", "y6", 0.0, 0.7)

layout["annotations"] = ann
layout["shapes"] = shapes
fig.update_layout(**layout)
fig.write_html("out.html")
